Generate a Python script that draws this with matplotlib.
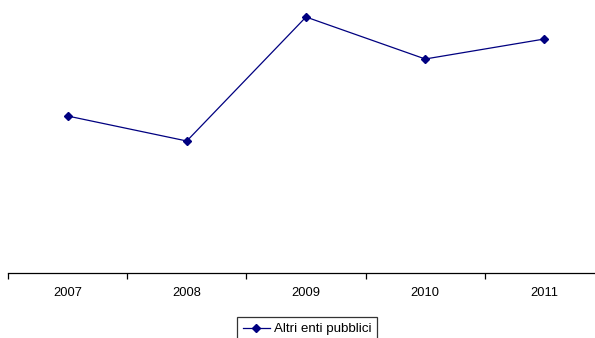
import matplotlib
matplotlib.use("Agg")
import matplotlib.pyplot as plt

years = ["2007", "2008", "2009", "2010", "2011"]
altri_enti_pubblici = [157, 132, 256, 214, 234]
series_name = "Altri enti pubblici"

W, H = 595, 338
fig = plt.figure(figsize=(W / 100, H / 100), dpi=100)
plt.rcParams["font.family"] = ["Liberation Sans", "DejaVu Sans"]

# axes box in pixel coordinates: left 8, right 604, top 3, bottom 273
left, right, top, bottom = 8, 604, 3, 273
ax = fig.add_axes([left / W, 1 - bottom / H, (right - left) / W, (bottom - top) / H])

x = list(range(len(years)))
ax.plot(x, altri_enti_pubblici, color="#000080", lw=0.9, marker="D",
        markersize=4.2, markerfacecolor="#000080", markeredgecolor="#000080",
        label=series_name)

ax.set_xlim(-0.5, len(years) - 0.5)
ax.set_ylim(0, 270)

for s in ["top", "right", "left"]:
    ax.spines[s].set_visible(False)
ax.spines["bottom"].set_color("black")
ax.spines["bottom"].set_linewidth(0.9)
ax.set_yticks([])

# category ticks sit on the boundaries between years
ax.set_xticks([i - 0.5 for i in range(len(years))])
ax.set_xticklabels([])
ax.set_xticks(x, minor=True)
ax.set_xticklabels(years, minor=True, fontsize=9.3)
ax.tick_params(axis="x", which="major", direction="out", length=4, width=0.9, color="black")
ax.tick_params(axis="x", which="minor", length=0, pad=10)

leg = fig.legend(loc="upper left", bbox_to_anchor=(237 / W, 1 - 317 / H),
                 frameon=True, fancybox=False, fontsize=9.6, handlelength=2.0,
                 handletextpad=0.3, borderpad=0.45, borderaxespad=0)
leg.get_frame().set_edgecolor("black")
leg.get_frame().set_linewidth(0.9)

fig.savefig("out.png", dpi=100)
